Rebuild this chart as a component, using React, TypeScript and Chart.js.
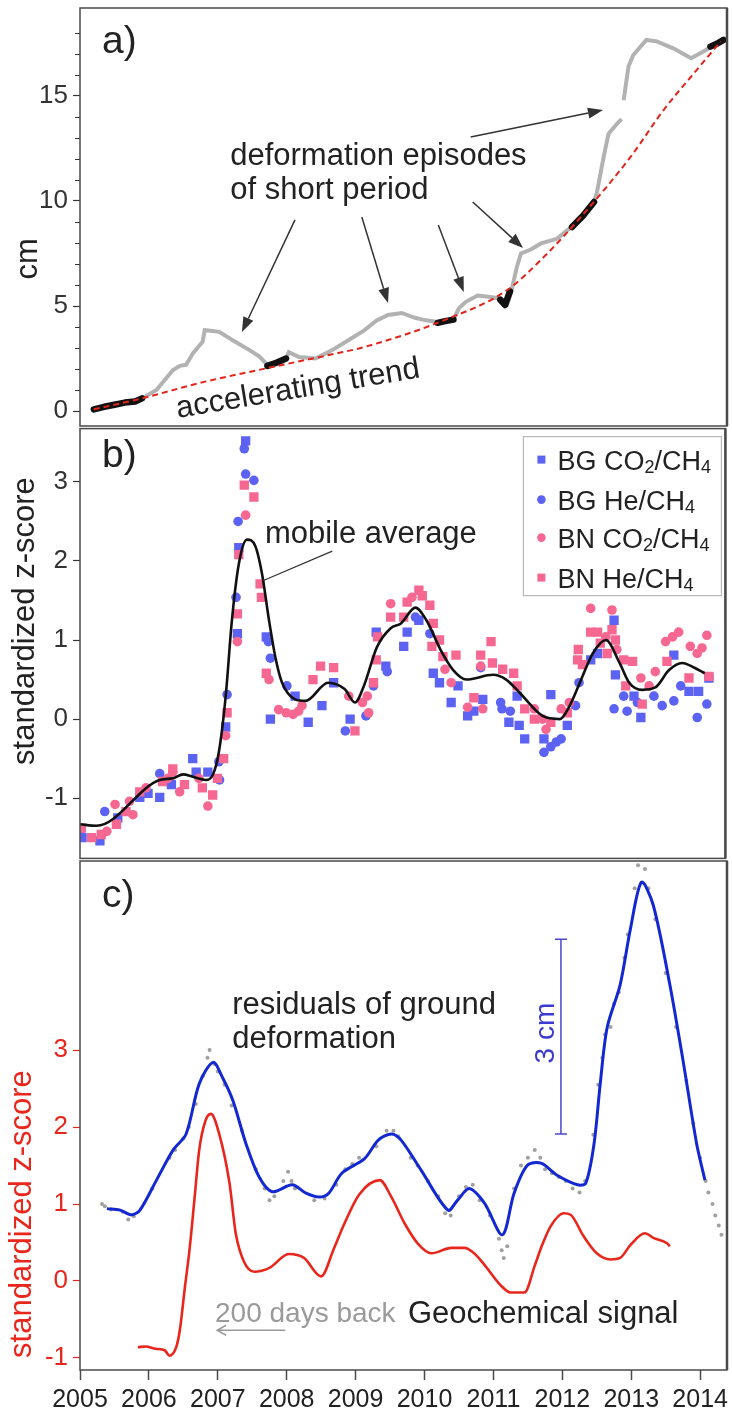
import React, { useEffect, useRef } from "react";
import { Chart, registerables } from "chart.js";
Chart.register(...registerables);

const FONT = '"Liberation Sans", Arial, Helvetica, sans-serif';
const INK = "#222222";
const FRAME = "#4a4a4a";
const RED = "#e8261c";
const BLUE = "#1428d2";
const PT_BLUE = "rgb(92,98,242)";
const PT_PINK = "rgb(246,104,146)";
const GRAY = "#b2b2b2";

// ---------- shared x axis ----------
const YEAR_MIN = 2005;
const YEAR_MAX = 2014.39;
const yearTicks = [2005, 2006, 2007, 2008, 2009, 2010, 2011, 2012, 2013, 2014];

// ---------- panel a: ground deformation (cm) ----------
const cmTicks = [0, 1, 2, 3, 4, 5, 6, 7, 8, 9, 10, 11, 12, 13, 14, 15, 16, 17, 18];
const cmLabelled = [0, 5, 10, 15];
const defYears = [2005.2, 2005.4, 2005.6, 2005.9, 2006.11, 2006.35, 2006.45, 2006.54, 2006.64, 2006.78, 2006.81, 2006.9, 2007.02, 2007.21, 2007.46, 2007.6, 2007.72, 2007.85, 2007.99, 2008.03, 2008.18, 2008.42, 2008.66, 2008.9, 2009.13, 2009.3, 2009.47, 2009.67, 2009.85, 2010.0, 2010.19, 2010.3, 2010.42, 2010.5, 2010.6, 2010.77, 2010.9, 2011.05, 2011.13, 2011.2, 2011.26, 2011.34, 2011.4, 2011.55, 2011.69, 2011.92, 2012.07, 2012.14, 2012.3, 2012.46, 2012.5, 2012.6, 2012.67, 2012.8, 2012.86, 2012.875, 2012.89, 2012.96, 2013.03, 2013.22, 2013.37, 2013.61, 2013.87, 2014.09, 2014.15, 2014.34];
const defCm = [0.1, 0.2, 0.35, 0.6, 1.0, 1.95, 2.15, 2.2, 2.75, 3.3, 3.85, 3.82, 3.77, 3.38, 2.9, 2.6, 2.2, 2.3, 2.5, 2.8, 2.57, 2.5, 2.9, 3.38, 3.85, 4.3, 4.57, 4.67, 4.45, 4.33, 4.24, 4.3, 4.35, 4.9, 5.2, 5.5, 5.45, 5.38, 5.3, 5.1, 5.7, 6.86, 7.5, 7.7, 7.98, 8.2, 8.6, 8.76, 9.2, 9.95, 10.38, 12.1, 13.2, 13.7, 13.9, null, 14.8, 16.4, 16.95, 17.67, 17.6, 17.27, 16.8, 17.2, 17.35, 17.67];
const stableYears = [2005.2, 2005.35, 2005.5, 2005.65, 2005.8, 2005.9, 2006.5, 2007.72, 2007.85, 2007.99, 2009.0, 2010.19, 2010.3, 2010.42, 2010.8, 2011.1, 2011.17, 2011.24, 2011.7, 2012.14, 2012.3, 2012.46, 2013.5, 2014.15, 2014.25, 2014.34];
const stableCm = [0.08, 0.2, 0.3, 0.4, 0.45, 0.6, null, 2.15, 2.3, 2.5, null, 4.2, 4.28, 4.35, null, 5.3, 5.05, 5.7, null, 8.76, 9.3, 9.95, null, 17.35, 17.5, 17.67];
const trendYears = [2005.2, 2005.9, 2006.73, 2007.7, 2008.66, 2009.13, 2010.29, 2011.2, 2011.73, 2012.27, 2012.99, 2013.47, 2013.94, 2014.3];
const trendCm = [0.08, 0.6, 1.33, 2.03, 2.7, 3.05, 4.33, 5.76, 7.33, 9.24, 12.1, 14.33, 16.2, 17.6];

// ---------- panel b: geochemical ratios (z-score) ----------
const zTicksB = [-1, 0, 1, 2, 3];
const bgCo2Years = [2005.03, 2005.29, 2005.55, 2005.87, 2005.99, 2006.16, 2006.33, 2006.64, 2006.69, 2006.86, 2007.12, 2007.29, 2007.31, 2007.41, 2007.71, 2007.77, 2008.13, 2008.32, 2008.52, 2008.69, 2008.93, 2009.31, 2009.45, 2009.71, 2009.76, 2009.93, 2010.14, 2010.23, 2010.4, 2010.5, 2010.64, 2010.73, 2010.86, 2011.24, 2011.36, 2011.39, 2011.47, 2011.75, 2011.85, 2012.09, 2012.43, 2012.53, 2012.77, 2012.79, 2013.06, 2013.16, 2013.64, 2013.86, 2014.0, 2014.15];
const bgCo2Z = [-1.5, -1.54, -1.25, -0.99, -0.94, -0.99, -0.83, -0.5, -0.67, -0.67, -0.1, 1.08, 2.17, 3.52, 1.04, 0.0, 0.29, -0.04, 0.17, 0.46, 0.0, 1.1, 0.67, 0.92, 1.1, 1.25, 0.58, 0.46, 0.21, 0.42, 0.04, 0.1, 0.25, -0.04, 0.29, -0.08, -0.25, -0.25, 0.31, -0.08, 0.75, 0.83, 1.25, 0.56, 0.29, 0.02, 0.81, 0.35, 0.35, 0.52];
const bgHeYears = [2005.02, 2005.36, 2006.16, 2007.02, 2007.03, 2007.14, 2007.27, 2007.3, 2007.39, 2007.41, 2007.53, 2007.74, 2007.77, 2008.01, 2008.86, 2009.16, 2009.27, 2009.47, 2009.88, 2010.09, 2010.83, 2011.12, 2011.14, 2011.26, 2011.75, 2011.85, 2011.93, 2012.0, 2012.21, 2012.26, 2012.77, 2012.91, 2012.96, 2013.11, 2013.35, 2013.47, 2013.64, 2013.74, 2013.98, 2014.12];
const bgHeZ = [-1.48, -1.17, -0.69, -0.54, -0.77, 0.31, 1.54, 2.5, 3.42, 3.1, 3.02, 0.98, 0.77, 0.42, -0.15, 0.04, 0.42, 0.6, 1.29, 1.08, 0.65, 0.21, 0.13, 0.1, -0.42, -0.35, -0.29, -0.25, 0.17, 0.46, 0.13, 0.29, 0.1, 0.21, 0.29, 0.17, 0.23, 0.42, 0.02, 0.19];
const bnCo2Years = [2005.39, 2005.51, 2005.72, 2005.77, 2005.96, 2006.28, 2006.35, 2006.45, 2006.73, 2006.86, 2007.12, 2007.29, 2007.41, 2007.75, 2007.89, 2008.0, 2008.1, 2008.18, 2008.23, 2008.91, 2009.11, 2009.18, 2009.2, 2009.52, 2009.83, 2010.31, 2010.4, 2010.64, 2010.83, 2010.86, 2011.61, 2011.73, 2011.78, 2012.0, 2012.12, 2012.43, 2012.65, 2012.74, 2012.81, 2013.16, 2013.28, 2013.37, 2013.52, 2013.62, 2013.71, 2013.88, 2013.98, 2014.05, 2014.12];
const bnCo2Z = [-1.42, -1.08, -1.04, -1.21, -0.87, -0.75, -0.67, -0.92, -0.75, -1.1, -0.21, 0.98, 2.58, 0.5, 0.12, 0.08, 0.06, 0.1, 0.17, 0.29, 0.21, 0.29, 0.08, 1.46, 1.54, 0.63, 0.46, 0.15, 0.67, 0.13, 0.13, 0.0, -0.13, 0.13, 0.21, 1.4, 1.04, 1.38, 0.88, 0.52, 0.42, 0.6, 0.98, 1.04, 1.1, 0.92, 0.83, 0.9, 1.06];
const bnHeYears = [2005.02, 2005.17, 2005.31, 2005.53, 2005.67, 2005.87, 2006.2, 2006.35, 2006.52, 2006.78, 2006.93, 2007.0, 2007.09, 2007.14, 2007.29, 2007.31, 2007.39, 2007.53, 2007.62, 2007.64, 2007.71, 2008.39, 2008.5, 2008.69, 2009.0, 2009.27, 2009.31, 2009.33, 2009.52, 2009.71, 2009.76, 2009.93, 2009.98, 2010.09, 2010.14, 2010.12, 2010.23, 2010.28, 2010.47, 2010.73, 2010.83, 2010.98, 2011.0, 2011.15, 2011.31, 2011.36, 2011.47, 2011.61, 2011.85, 2012.09, 2012.24, 2012.25, 2012.31, 2012.43, 2012.53, 2012.57, 2012.67, 2012.74, 2012.79, 2012.91, 2012.94, 2013.04, 2013.18, 2013.54, 2013.86, 2014.15];
const bnHeZ = [-1.38, -1.5, -1.46, -1.33, -1.17, -0.92, -0.79, -0.63, -0.83, -0.87, -0.96, -0.75, -0.5, 0.08, 1.33, 2.08, 2.96, 2.81, 1.71, 1.54, 0.58, 0.5, 0.67, 0.65, -0.15, 0.46, 0.75, 1.04, 1.29, 1.29, 1.48, 1.63, 1.56, 1.44, 1.21, 0.92, 1.0, 0.79, 0.81, 0.27, 0.81, 0.98, 0.71, 0.63, 0.58, 0.42, 0.13, 0.0, -0.04, 0.08, 0.75, 0.88, 0.69, 1.1, 1.1, 0.96, 0.83, 1.13, 1.0, 0.75, 0.42, 0.73, 0.19, 0.73, 0.52, 0.54];
const avgYears = [2005.0, 2005.24, 2006.16, 2006.35, 2006.5, 2006.64, 2006.83, 2006.93, 2007.02, 2007.12, 2007.21, 2007.31, 2007.43, 2007.55, 2007.65, 2007.75, 2007.85, 2007.94, 2008.13, 2008.28, 2008.61, 2008.85, 2009.0, 2009.13, 2009.32, 2009.52, 2009.67, 2009.88, 2010.04, 2010.25, 2010.43, 2010.62, 2011.01, 2011.2, 2011.4, 2011.73, 2011.98, 2012.12, 2012.31, 2012.46, 2012.65, 2012.85, 2012.99, 2013.18, 2013.37, 2013.57, 2013.76, 2013.94, 2014.09];
const avgZ = [-1.33, -1.35, -0.77, -0.75, -0.7, -0.73, -0.77, -0.71, -0.42, 0.29, 1.25, 1.96, 2.27, 2.19, 1.83, 1.25, 0.75, 0.46, 0.25, 0.23, 0.46, 0.38, 0.21, 0.42, 0.91, 1.15, 1.21, 1.41, 1.25, 0.87, 0.62, 0.5, 0.56, 0.5, 0.33, 0.04, 0.0, 0.16, 0.54, 0.83, 1.0, 0.71, 0.46, 0.37, 0.4, 0.62, 0.71, 0.65, 0.58];

// ---------- panel c: residuals & geochemical signal ----------
const zTicksC = [-1, 0, 1, 2, 3];
const residYears = [2005.39, 2005.58, 2005.75, 2005.87, 2006.11, 2006.35, 2006.54, 2006.73, 2006.93, 2007.07, 2007.22, 2007.41, 2007.6, 2007.79, 2008.08, 2008.28, 2008.47, 2008.61, 2008.8, 2009.13, 2009.33, 2009.52, 2009.66, 2009.95, 2010.34, 2010.48, 2010.65, 2010.87, 2011.13, 2011.3, 2011.49, 2011.69, 2011.93, 2012.22, 2012.34, 2012.46, 2012.55, 2012.65, 2012.84, 2012.99, 2013.15, 2013.32, 2013.56, 2013.76, 2013.95, 2014.07];
const residZ = [0.94, 0.92, 0.86, 0.92, 1.31, 1.7, 1.91, 2.56, 2.84, 2.64, 2.34, 1.78, 1.35, 1.16, 1.25, 1.14, 1.09, 1.14, 1.4, 1.59, 1.83, 1.91, 1.83, 1.44, 0.92, 1.05, 1.2, 1.01, 0.6, 1.14, 1.5, 1.53, 1.37, 1.25, 1.27, 1.78, 2.56, 3.29, 3.85, 4.58, 5.18, 4.88, 3.85, 2.82, 1.78, 1.31];
const rawYears = [2005.32, 2005.36, 2005.45, 2005.62, 2005.7, 2005.78, 2006.05, 2006.3, 2006.38, 2006.5, 2006.58, 2006.68, 2006.78, 2006.85, 2006.88, 2006.95, 2007.0, 2007.1, 2007.2, 2007.35, 2007.55, 2007.68, 2007.75, 2007.82, 2007.95, 2008.02, 2008.07, 2008.12, 2008.4, 2008.55, 2008.72, 2008.85, 2008.95, 2009.05, 2009.3, 2009.45, 2009.55, 2009.62, 2009.8, 2009.9, 2010.05, 2010.2, 2010.3, 2010.38, 2010.5, 2010.6, 2010.7, 2010.8, 2010.95, 2011.08, 2011.12, 2011.15, 2011.2, 2011.3, 2011.4, 2011.5, 2011.6, 2011.68, 2011.75, 2011.85, 2011.95, 2012.05, 2012.15, 2012.25, 2012.33, 2012.45, 2012.52, 2012.58, 2012.62, 2012.7, 2012.75, 2012.82, 2012.9, 2012.95, 2013.05, 2013.1, 2013.2, 2013.25, 2013.35, 2013.5, 2013.65, 2013.8, 2013.9, 2014.0, 2014.08, 2014.12, 2014.18, 2014.22, 2014.27, 2014.31];
const rawZ = [1.0, 0.97, 0.93, 0.9, 0.8, 0.84, 1.2, 1.6, 1.7, 1.85, 2.0, 2.3, 2.66, 2.9, 3.0, 2.82, 2.72, 2.55, 2.28, 1.95, 1.45, 1.2, 1.05, 1.1, 1.3, 1.42, 1.3, 1.2, 1.05, 1.07, 1.25, 1.45, 1.52, 1.6, 1.75, 1.95, 1.95, 1.88, 1.6, 1.5, 1.3, 1.1, 0.88, 0.85, 1.1, 1.22, 1.25, 1.05, 0.85, 0.55, 0.4, 0.3, 0.45, 1.2, 1.5, 1.6, 1.7, 1.6, 1.45, 1.4, 1.35, 1.3, 1.2, 1.15, 1.3, 1.9, 2.55, 2.9, 3.2, 3.3, 3.6, 3.75, 4.2, 4.5, 5.1, 5.4, 5.35, 5.1, 4.7, 4.0, 3.3, 2.6, 2.05, 1.6, 1.3, 1.15, 1.0, 0.85, 0.72, 0.6];
const geoYears = [2005.84, 2005.95, 2006.1, 2006.23, 2006.3, 2006.4, 2006.45, 2006.52, 2006.59, 2006.66, 2006.73, 2006.82, 2006.9, 2007.02, 2007.17, 2007.26, 2007.38, 2007.53, 2007.75, 2008.03, 2008.25, 2008.5, 2008.68, 2008.83, 2009.05, 2009.35, 2009.52, 2009.71, 2009.9, 2010.1, 2010.39, 2010.58, 2010.72, 2010.87, 2011.1, 2011.25, 2011.45, 2011.6, 2011.7, 2011.83, 2012.02, 2012.12, 2012.31, 2012.5, 2012.7, 2012.84, 2012.99, 2013.2, 2013.32, 2013.52, 2013.56];
const geoZ = [-0.86, -0.85, -0.88, -0.9, -0.97, -0.85, -0.63, -0.1, 0.41, 1.05, 1.7, 2.08, 2.17, 1.91, 1.27, 0.62, 0.25, 0.12, 0.17, 0.35, 0.3, 0.06, 0.41, 0.73, 1.12, 1.31, 1.09, 0.75, 0.49, 0.36, 0.43, 0.43, 0.36, 0.21, -0.05, -0.15, -0.15, 0.2, 0.45, 0.71, 0.88, 0.86, 0.58, 0.36, 0.28, 0.3, 0.47, 0.62, 0.56, 0.49, 0.45];

// ---------- helpers ----------
type P = { x: number; y: number | null };
const pts = (xs: number[], ys: (number | null)[]): P[] => xs.map((x, i) => ({ x, y: ys[i] }));

function txt(ctx: CanvasRenderingContext2D, s: string, x: number, y: number, o: any = {}) {
  ctx.save();
  ctx.translate(x, y);
  if (o.rot) ctx.rotate(o.rot);
  ctx.font = `${o.size || 31}px ${FONT}`;
  ctx.fillStyle = o.color || INK;
  ctx.textAlign = o.align || "left";
  ctx.textBaseline = o.baseline || "middle";
  ctx.fillText(s, 0, 0);
  ctx.restore();
}

function arrow(ctx: CanvasRenderingContext2D, x0: number, y0: number, x1: number, y1: number) {
  const head = 15, half = 5.5;
  const a = Math.atan2(y1 - y0, x1 - x0);
  const bx = x1 - head * Math.cos(a), by = y1 - head * Math.sin(a);
  ctx.save();
  ctx.strokeStyle = "#333";
  ctx.fillStyle = "#333";
  ctx.lineWidth = 1.5;
  ctx.beginPath(); ctx.moveTo(x0, y0); ctx.lineTo(bx, by); ctx.stroke();
  ctx.beginPath();
  ctx.moveTo(x1, y1);
  ctx.lineTo(bx + half * Math.sin(a), by - half * Math.cos(a));
  ctx.lineTo(bx - half * Math.sin(a), by + half * Math.cos(a));
  ctx.closePath(); ctx.fill();
  ctx.restore();
}

const framePlugin = {
  id: "frame",
  afterDraw(chart: any) {
    const { ctx, chartArea: a } = chart;
    ctx.save();
    ctx.strokeStyle = FRAME;
    ctx.lineWidth = 1.5;
    ctx.strokeRect(a.left, a.top, a.right - a.left, a.bottom - a.top);
    ctx.lineWidth = 2.5;
    ctx.beginPath(); ctx.moveTo(a.right, a.top); ctx.lineTo(a.right, a.bottom); ctx.stroke();
    ctx.restore();
  },
};

function xScale(show: boolean) {
  return {
    type: "linear",
    min: YEAR_MIN,
    max: YEAR_MAX,
    display: show,
    afterBuildTicks: (s: any) => { s.ticks = yearTicks.map((v) => ({ value: v })); },
    ticks: { font: { family: FONT, size: 25 }, color: INK, padding: 5, maxRotation: 0, autoSkip: false, callback: (v: any) => String(v) },
    grid: { drawOnChartArea: false, drawTicks: true, tickLength: 10, color: FRAME, tickColor: FRAME, tickWidth: 1.5 },
    border: { display: false },
    afterFit: (s: any) => {
      if (show) s.height = 45;
      s.paddingLeft = 0;
      s.paddingRight = 0;
    },
  };
}

function yScale(min: number, max: number, ticks: number[], color: string, cb?: (v: number) => string, tickCol?: any) {
  return {
    type: "linear",
    min,
    max,
    afterBuildTicks: (s: any) => { s.ticks = ticks.map((v) => ({ value: v })); },
    ticks: { font: { family: FONT, size: 26 }, color, padding: 5, autoSkip: false, callback: cb || ((v: any) => String(v)) },
    grid: { drawOnChartArea: false, drawTicks: true, tickLength: 7, color, tickColor: tickCol || color, tickWidth: 1.2 },
    border: { display: false },
    afterFit: (s: any) => {
      s.width = 80;
      s.paddingTop = 0;
      s.paddingBottom = 0;
    },
  };
}

const baseOpts = (padTop: number, padBottom: number) => ({
  animation: false,
  responsive: false,
  maintainAspectRatio: false,
  devicePixelRatio: 1,
  events: [],
  layout: { padding: { left: 0, right: 5, top: padTop, bottom: padBottom } },
  plugins: { legend: { display: false }, tooltip: { enabled: false } },
});

// ---------- panel a ----------
function configA(): any {
  const annot = {
    id: "annotA",
    afterDatasetsDraw(chart: any) {
      const { ctx, chartArea: a } = chart;
      const X = (v: number) => chart.scales.x.getPixelForValue(v);
      const Y = (v: number) => chart.scales.y.getPixelForValue(v);
      // minor ticks (shorter)
      ctx.save();
      ctx.strokeStyle = "#333"; ctx.lineWidth = 1.2;
      ctx.beginPath();
      cmTicks.filter((v) => !cmLabelled.includes(v)).forEach((v) => {
        const y = Math.round(Y(v)) + 0.5;
        ctx.moveTo(a.left - 5, y); ctx.lineTo(a.left, y);
      });
      ctx.stroke();
      ctx.restore();
      txt(ctx, "a)", X(2005.32), Y(17.05), { size: 39, baseline: "alphabetic" });
      txt(ctx, "cm", a.left - 52, Y(7.24), { size: 31, rot: -Math.PI / 2, align: "center" });
      txt(ctx, "deformation episodes", X(2007.18), Y(12.1), { size: 31 });
      txt(ctx, "of short period", X(2007.18), Y(10.48), { size: 31 });
      txt(ctx, "accelerating trend", X(2006.42), Y(-0.33), { size: 31, baseline: "alphabetic", rot: -0.166 });
      arrow(ctx, X(2008.12), Y(9.1), X(2007.35), Y(3.76));
      arrow(ctx, X(2009.09), Y(9.24), X(2009.47), Y(5.14));
      arrow(ctx, X(2010.2), Y(8.86), X(2010.57), Y(5.67));
      arrow(ctx, X(2010.7), Y(9.95), X(2011.43), Y(7.76));
      arrow(ctx, X(2010.67), Y(13.05), X(2012.59), Y(14.33));
    },
  };
  return {
    type: "line",
    data: {
      datasets: [
        { label: "accelerating trend", data: pts(trendYears, trendCm), borderColor: "#e3241b", borderWidth: 2, borderDash: [6, 4], pointRadius: 0, cubicInterpolationMode: "monotone", order: 0 },
        { label: "stable periods", data: pts(stableYears, stableCm), borderColor: "#111", borderWidth: 6.5, borderCapStyle: "round", borderJoinStyle: "round", pointRadius: 0, spanGaps: false, order: 1 },
        { label: "ground deformation", data: pts(defYears, defCm), borderColor: GRAY, borderWidth: 4, pointRadius: 0, spanGaps: false, order: 2 },
      ],
    },
    options: {
      ...baseOpts(8, 4),
      scales: {
        x: xScale(false),
        y: yScale(-0.714, 19.19, cmTicks, "#333", (v: number) => (cmLabelled.includes(v) ? String(v) : ""),
          (c: any) => (cmLabelled.includes(c.tick && c.tick.value) ? "#333" : "rgba(0,0,0,0)")),
      },
    },
    plugins: [annot, framePlugin],
  };
}

// ---------- panel b ----------
const legendItems = [
  { parts: ["BG CO", "2", "/CH", "4"], color: PT_BLUE, style: "rect" },
  { parts: ["BG He/CH", "4"], color: PT_BLUE, style: "circle" },
  { parts: ["BN CO", "2", "/CH", "4"], color: PT_PINK, style: "circle" },
  { parts: ["BN He/CH", "4"], color: PT_PINK, style: "rect" },
];

function configB(): any {
  const annot = {
    id: "annotB",
    afterDatasetsDraw(chart: any) {
      const { ctx, chartArea: a } = chart;
      const X = (v: number) => chart.scales.x.getPixelForValue(v);
      const Y = (v: number) => chart.scales.y.getPixelForValue(v);
      txt(ctx, "b)", X(2005.32), Y(3.19), { size: 39, baseline: "alphabetic" });
      txt(ctx, "standardized z-score", a.left - 55, Y(1.24), { size: 31, rot: -Math.PI / 2, align: "center" });
      txt(ctx, "mobile average", X(2007.69), Y(2.225), { size: 31, baseline: "alphabetic" });
      ctx.save();
      ctx.strokeStyle = "#333"; ctx.lineWidth = 1.2;
      ctx.beginPath(); ctx.moveTo(X(2008.67), Y(2.125)); ctx.lineTo(X(2007.66), Y(1.75)); ctx.stroke();
      ctx.restore();
      // legend box
      const w = 198, h = 159;
      const lx = a.right - 4 - w, ly = a.top + 8;
      ctx.save();
      ctx.fillStyle = "#fff";
      ctx.fillRect(lx, ly, w, h);
      ctx.strokeStyle = "#b8b8b8"; ctx.lineWidth = 1.2;
      ctx.strokeRect(lx, ly, w, h);
      const rows = [23, 63, 101, 141];
      legendItems.forEach((it, i) => {
        const cy = ly + rows[i];
        ctx.fillStyle = it.color;
        if (it.style === "rect") ctx.fillRect(lx + 14, cy - 4, 8, 8);
        else { ctx.beginPath(); ctx.arc(lx + 18, cy, 4.3, 0, Math.PI * 2); ctx.fill(); }
        let x = lx + 34;
        it.parts.forEach((p, k) => {
          const sub = k % 2 === 1;
          ctx.font = `${sub ? 18 : 27}px ${FONT}`;
          ctx.fillStyle = INK;
          ctx.textAlign = "left";
          ctx.textBaseline = "alphabetic";
          ctx.fillText(p, x, cy + 10 + (sub ? 3 : 0));
          x += ctx.measureText(p).width;
        });
      });
      ctx.restore();
    },
  };
  const sc = (label: string, xs: number[], ys: number[], color: string, style: string, r: number, order: number) => ({
    type: "scatter", label, data: pts(xs, ys), backgroundColor: color, borderWidth: 0, pointStyle: style, pointRadius: r, order,
  });
  return {
    type: "scatter",
    data: {
      datasets: [
        { type: "line", label: "mobile average", data: pts(avgYears, avgZ), borderColor: "#111", borderWidth: 2.6, pointRadius: 0, cubicInterpolationMode: "monotone", order: 0 },
        sc("BN He/CH₄", bnHeYears, bnHeZ, PT_PINK, "rect", 6.6, 1),
        sc("BN CO₂/CH₄", bnCo2Years, bnCo2Z, PT_PINK, "circle", 4.8, 2),
        sc("BG He/CH₄", bgHeYears, bgHeZ, PT_BLUE, "circle", 4.8, 3),
        sc("BG CO₂/CH₄", bgCo2Years, bgCo2Z, PT_BLUE, "rect", 6.6, 4),
      ],
    },
    options: {
      ...baseOpts(4, 4),
      scales: {
        x: xScale(false),
        y: yScale(-1.7625, 3.675, zTicksB, "#333"),
      },
    },
    plugins: [annot, framePlugin],
  };
}

// ---------- panel c ----------
function configC(): any {
  const annot = {
    id: "annotC",
    afterDatasetsDraw(chart: any) {
      const { ctx, chartArea: a } = chart;
      const X = (v: number) => chart.scales.x.getPixelForValue(v);
      const Y = (v: number) => chart.scales.y.getPixelForValue(v);
      txt(ctx, "c)", X(2005.32), Y(4.857), { size: 39, baseline: "alphabetic" });
      txt(ctx, "standardized z-score", a.left - 58, Y(0.87), { size: 31, rot: -Math.PI / 2, align: "center", color: RED });
      txt(ctx, "residuals of ground", X(2007.21), Y(3.58), { size: 31 });
      txt(ctx, "deformation", X(2007.21), Y(3.14), { size: 31 });
      txt(ctx, "3 cm", X(2011.76), Y(3.22), { size: 28, rot: -Math.PI / 2, align: "center", color: "#3a3ad0" });
      // 3 cm scale bar
      const bx = X(2011.98), t = Y(4.44), b = Y(1.91);
      ctx.save();
      ctx.strokeStyle = "#4848c8"; ctx.lineWidth = 1.5;
      ctx.beginPath();
      ctx.moveTo(bx, t); ctx.lineTo(bx, b);
      ctx.moveTo(bx - 6, t); ctx.lineTo(bx + 6, t);
      ctx.moveTo(bx - 6, b); ctx.lineTo(bx + 6, b);
      ctx.stroke();
      ctx.restore();
      txt(ctx, "200 days back", X(2006.96), Y(-0.43), { size: 28, color: "#9a9a9a" });
      // back arrow
      const ay = Y(-0.64), ax0 = X(2007.98), ax1 = X(2006.99);
      ctx.save();
      ctx.strokeStyle = "#9a9a9a"; ctx.lineWidth = 1.5;
      ctx.beginPath();
      ctx.moveTo(ax0, ay); ctx.lineTo(ax1, ay);
      ctx.moveTo(ax1 + 9, ay - 5); ctx.lineTo(ax1, ay); ctx.lineTo(ax1 + 9, ay + 5);
      ctx.stroke();
      ctx.restore();
      txt(ctx, "Geochemical signal", X(2009.76), Y(-0.43), { size: 31 });
    },
  };
  return {
    type: "line",
    data: {
      datasets: [
        { label: "residuals of ground deformation", data: pts(residYears, residZ), borderColor: BLUE, borderWidth: 3, pointRadius: 0, tension: 0.3, order: 0 },
        { label: "Geochemical signal", data: pts(geoYears, geoZ), borderColor: RED, borderWidth: 2.6, pointRadius: 0, cubicInterpolationMode: "monotone", order: 1 },
        { type: "scatter", label: "residual samples", data: pts(rawYears, rawZ), backgroundColor: "#a0a0a0", borderWidth: 0, pointRadius: 2, order: 2 },
      ],
    },
    options: {
      ...baseOpts(4, 0),
      scales: {
        x: xScale(true),
        y: yScale(-1.156, 5.455, zTicksC, RED),
      },
    },
    plugins: [annot, framePlugin],
  };
}

function Panel({ top, height, make }: { top: number; height: number; make: () => any }) {
  const ref = useRef<HTMLCanvasElement>(null);
  useEffect(() => {
    const chart = new Chart(ref.current as HTMLCanvasElement, make());
    return () => chart.destroy();
  }, []);
  return (
    <canvas
      ref={ref}
      width={732}
      height={height}
      style={{ position: "absolute", left: 0, top, width: 732, height }}
    />
  );
}

export default function App() {
  return (
    <div style={{ position: "absolute", left: 0, top: 0, width: 732, height: 1415, background: "#fff", overflow: "hidden" }}>
      <Panel top={857} height={558} make={configC} />
      <Panel top={422} height={443} make={configB} />
      <Panel top={0} height={430} make={configA} />
    </div>
  );
}
